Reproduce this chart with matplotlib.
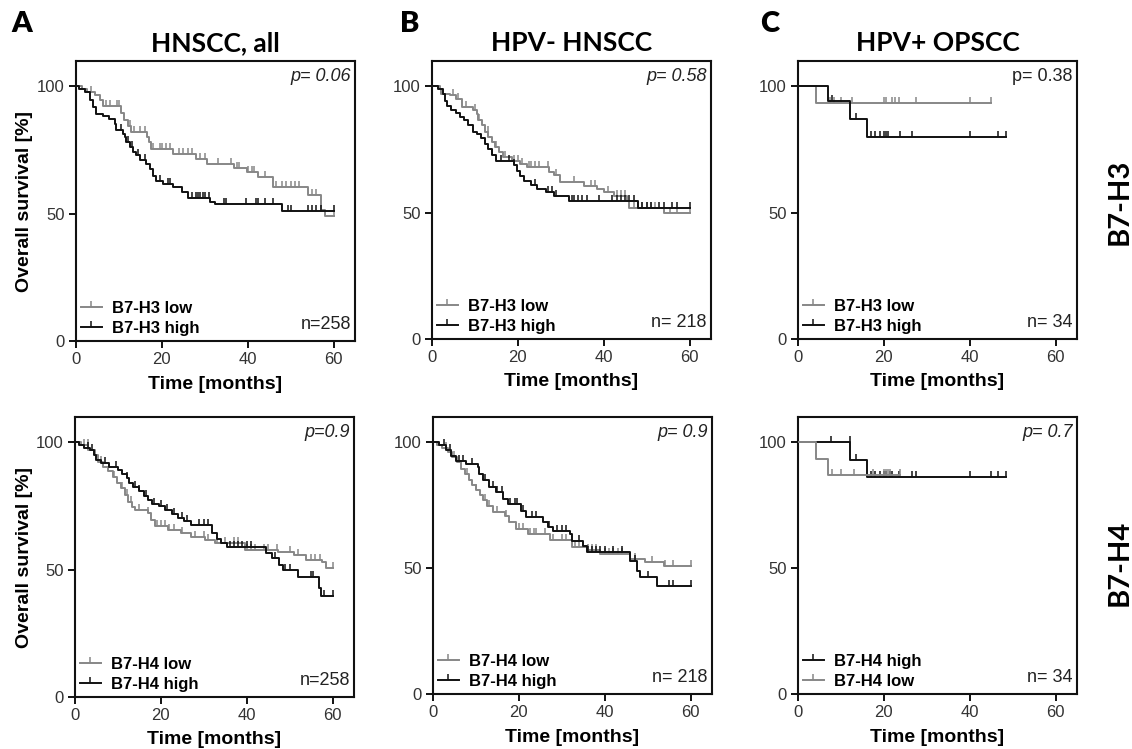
import numpy as np
import matplotlib
matplotlib.use('Agg')
import matplotlib.pyplot as plt
from matplotlib.lines import Line2D

# ---- survival data (event time [months], survival after drop [%]) ----
# A, B7-H3
a3_low_t = [1.5, 2.5, 4.5, 5.5, 6.3, 10.6, 11.2, 12.0, 12.8, 16.5, 17.0, 17.5, 22.6, 28.0, 30.5,
            36.7, 39.8, 42.5, 46.0, 54.0, 57.0, 58.0]
a3_low_s = [99, 98, 96.5, 94.5, 92.3, 89.5, 87, 84.5, 82, 80, 78, 75.5, 73.5, 71.5, 69.5,
            68, 66.5, 64.5, 60.5, 57.5, 51.5, 49]
a3_low_c = [3.5, 7, 8, 9.5, 10, 12.5, 13.5, 15, 16, 18, 19.5, 20, 21, 22, 24, 25, 26, 27, 29, 30,
            33, 36, 37.5, 38, 40, 41, 41.5, 44, 46.5, 48, 49, 50, 51, 52, 55, 56, 60]
a3_high_t = [0.8, 2.0, 3.2, 4.0, 4.7, 6.3, 7.8, 9.0, 9.4, 11.0, 11.4, 11.7, 12.5, 13.3, 14.0, 14.8,
             16.4, 17.2, 18.0, 18.7, 20.3, 22.6, 24.6, 26.1, 31.2, 32.4, 48.0]
a3_high_s = [99, 97.8, 94.5, 92, 89.3, 88.2, 87.3, 85.4, 82.7, 81.4, 80, 78, 76.2, 74.2, 73, 71,
             69.7, 67.7, 65, 63, 61.8, 60.5, 58.6, 56, 54.6, 53.7, 51.2]
a3_high_c = [10.5, 12, 13, 14.5, 16, 19.5, 21.5, 22, 27, 28, 28.5, 29, 29.5, 30, 31, 34.5, 35, 39.5,
             42, 42.5, 44, 46, 49.5, 50, 54, 55, 56, 57, 60]

# B, B7-H3
b3_low_t = [1.8, 2.2, 4.1, 5.7, 6.9, 9.6, 10.4, 10.8, 11.6, 12.3, 13.1, 13.9, 14.7, 15.5, 16.6,
            18.6, 20.5, 22.1, 27.2, 28.4, 29.9, 35.4, 38.5, 40.1, 42.4, 45.5, 45.9, 54.1]
b3_low_s = [99, 97, 96.4, 95, 91.8, 90.5, 89, 86.5, 84.5, 81.8, 80, 78, 76, 74, 72,
            70.6, 69.3, 68, 66, 64.7, 62, 60.7, 59.4, 58, 56.7, 54.8, 51.8, 49.9]
b3_low_c = [5, 6, 8, 10, 11, 13, 15, 17, 19, 20, 21, 22.5, 23, 24, 25, 27, 29, 33, 37, 38, 41, 43,
            44, 45, 47, 48, 49, 50, 51, 52, 55.5, 57, 60]
b3_high_t = [1.5, 2.5, 3.0, 3.5, 4.5, 5.5, 6.5, 7.5, 8.5, 9.5, 10.5, 11.5, 12.3, 13.1, 13.9, 15.0,
             19.0, 19.7, 20.5, 21.5, 23.0, 24.5, 26.5, 28.5, 32.0, 48.0]
b3_high_s = [99, 97, 94, 92, 90.5, 89.5, 88, 86.5, 84.5, 82, 81, 79.5, 77, 75, 73, 70.5,
             69, 66.5, 64.5, 62.5, 61, 59.5, 58, 56.5, 54.5, 52]
b3_high_c = [14, 16, 18, 19, 24, 27, 28, 29, 32.5, 33, 34, 35, 36, 39, 42, 43, 44, 45, 46, 47, 49,
             50, 51, 53, 54, 56, 57, 60]

# C, B7-H3
c3_low_t = [4.3]
c3_low_s = [93.4]
c3_low_c = [7.5, 8.3, 10, 12.5, 20, 20.5, 22, 22.7, 23.5, 27.5, 40, 45]
c3_high_t = [7.1, 12.1, 16.0]
c3_high_s = [94, 87.2, 79.9]
c3_high_c = [8, 13.5, 17, 18, 19, 20, 20.5, 21, 23.8, 26.5, 40, 46.5, 48.5]

# A, B7-H4
a4_low_t = [1.5, 3.1, 4.6, 5.4, 6.6, 7.7, 8.9, 9.7, 10.8, 11.6, 12.4, 13.2, 13.9, 17.0, 17.8, 18.6,
            21.7, 24.8, 27.0, 30.2, 32.5, 39.5, 47.2, 51.0, 53.9, 57.5, 58.5]
a4_low_s = [99, 97, 95, 92.5, 90.5, 88.6, 86.6, 84, 82, 79.4, 76.8, 74.8, 73.5, 72.2, 69.5, 67,
            65.7, 64.4, 63, 61.7, 60.4, 57.8, 56.8, 55.7, 53.9, 53.1, 50.6]
a4_low_c = [2, 3, 6, 9, 11, 12, 13, 15, 17, 19, 20, 21, 22, 23, 25, 28, 30, 31, 33, 35, 37, 38, 40,
            41, 42, 44, 45, 47, 50, 52, 55, 56, 57, 60]
a4_high_t = [1.0, 2.0, 3.5, 4.5, 5.0, 6.0, 8.0, 10.0, 11.0, 12.0, 12.5, 13.5, 15.0, 16.0, 17.0, 18.0,
             19.5, 21.0, 22.5, 24.0, 25.5, 27.0, 32.0, 33.0, 34.0, 35.5, 44.5, 46.0, 47.5, 48.4,
             52.0, 56.8, 57.3]
a4_high_s = [99, 98, 97, 95, 93, 92, 90.5, 89, 87.5, 86, 84, 82.5, 81, 79, 77.5, 76,
             75, 73.5, 72, 70.5, 69, 67.5, 64.5, 62, 60.5, 59, 56.5, 54.5, 52, 50,
             47, 43, 39.5]
a4_high_c = [3, 4, 7, 9.5, 12, 14, 15, 16.5, 18.5, 20, 21.5, 23, 25, 26, 29, 30, 31, 36, 37, 38, 39,
             40, 41, 46.5, 49, 50, 55, 55.5, 58, 60]

# B, B7-H4
b4_low_t = [1.0, 2.0, 3.5, 4.5, 5.5, 6.5, 7.5, 8.5, 9.0, 10.0, 11.0, 11.7, 12.5, 13.9, 16.8, 17.8,
            19.4, 22.1, 27.2, 32.3, 35.8, 38.9, 45.9, 49.5, 53.8]
b4_low_s = [99, 97.5, 96, 94, 92, 89.5, 87.5, 85, 83, 81, 79, 77, 74.5, 72.2, 70.5, 68.5,
            65.6, 63.6, 61, 58.3, 57, 55.4, 53.7, 52.4, 50.7]
b4_low_c = [3, 5, 8, 10, 12, 13, 15, 17, 20, 21, 22.5, 23.5, 24, 26, 28, 30, 31, 33, 34, 36, 37, 38,
            40, 41, 42, 43, 44, 47, 51, 54, 56, 60]
b4_high_t = [1.4, 3.0, 4.1, 5.3, 7.7, 10.4, 10.8, 11.6, 13.1, 14.7, 16.3, 17.4, 20.5, 21.7, 25.6,
             26.8, 28.0, 31.9, 32.3, 35.0, 35.8, 45.9, 47.5, 48.3, 52.2]
b4_high_s = [98.7, 96.7, 94.7, 92.7, 91.4, 90, 87.4, 84.8, 82.1, 80.1, 77.5, 75.5, 72.8, 70.2, 68.2,
             66.2, 64.9, 63.6, 60.9, 58.9, 56.3, 53, 49, 46.4, 43]
b4_high_c = [2.5, 4, 6, 7, 9, 12, 14, 15, 16, 18, 19, 19.5, 21, 23, 24, 27, 29, 30, 31, 34, 36, 37,
             38, 39, 40, 42, 44, 47, 50, 55, 56, 60]

# C, B7-H4
c4_low_t = [4.2, 7.0]
c4_low_s = [93.4, 86.8]
c4_low_c = [8, 10, 13, 17.5, 20, 20.5, 21, 21.5, 23.7]
c4_high_t = [12.1, 16.0]
c4_high_s = [93, 86.1]
c4_high_c = [7.6, 12, 13.5, 17, 18, 19, 20, 20.5, 21.5, 22, 23.5, 26.5, 27.5, 40, 45, 46.5, 48.5]

titles = ['HNSCC, all', 'HPV- HNSCC', 'HPV+ OPSCC']
letters = ['A', 'B', 'C']
row_labels = ['B7-H3', 'B7-H4']
p_texts = [['p= 0.06', 'p= 0.58', 'p= 0.38'], ['p=0.9', 'p= 0.9', 'p= 0.7']]
p_italic = [[True, True, False], [True, True, True]]
n_texts = ['n=258', 'n= 218', 'n= 34']

GRAY = '#878787'
BLACK = '#111111'

W, H = 1132, 749
# axes boxes in pixels: left, right, top, bottom
boxes = [[(76, 355, 61, 341), (432, 711, 61, 339), (798, 1077, 61, 339)],
         [(75, 354, 417, 697), (433, 712, 417, 694), (798, 1077, 417, 694)]]

curves = [
    [[(a3_low_t, a3_low_s, a3_low_c, GRAY, 'B7-H3 low'), (a3_high_t, a3_high_s, a3_high_c, BLACK, 'B7-H3 high')],
     [(b3_low_t, b3_low_s, b3_low_c, GRAY, 'B7-H3 low'), (b3_high_t, b3_high_s, b3_high_c, BLACK, 'B7-H3 high')],
     [(c3_low_t, c3_low_s, c3_low_c, GRAY, 'B7-H3 low'), (c3_high_t, c3_high_s, c3_high_c, BLACK, 'B7-H3 high')]],
    [[(a4_low_t, a4_low_s, a4_low_c, GRAY, 'B7-H4 low'), (a4_high_t, a4_high_s, a4_high_c, BLACK, 'B7-H4 high')],
     [(b4_low_t, b4_low_s, b4_low_c, GRAY, 'B7-H4 low'), (b4_high_t, b4_high_s, b4_high_c, BLACK, 'B7-H4 high')],
     [(c4_high_t, c4_high_s, c4_high_c, BLACK, 'B7-H4 high'), (c4_low_t, c4_low_s, c4_low_c, GRAY, 'B7-H4 low')]],
]

SANS = ['Liberation Sans', 'DejaVu Sans']
plt.rcParams['font.family'] = SANS

fig = plt.figure(figsize=(W / 100, H / 100), dpi=100)


def draw_km(ax, t, s, cens, color):
    t = np.asarray(t, float)
    s = np.asarray(s, float)
    cens = np.asarray(cens, float)
    end = max(cens.max(), t.max())
    x = np.concatenate([[0], t, [end]])
    y = np.concatenate([[100], s, [s[-1]]])
    ax.step(x, y, where='post', color=color, lw=1.4, zorder=3)
    # censored cases sit on the curve level at their time
    levels = np.concatenate([[100], s])
    ys = levels[np.searchsorted(t, cens, side='right')]
    ax.plot(cens, ys, lw=0, marker=2, ms=4.5, mew=1.1, color=color, zorder=3)


for r in range(2):
    for c in range(3):
        l, rt, tp, bt = boxes[r][c]
        ax = fig.add_axes([l / W, 1 - bt / H, (rt - l) / W, (bt - tp) / H])
        handles = []
        for t, s, cens, color, lab in curves[r][c]:
            draw_km(ax, t, s, cens, color)
            handles.append(Line2D([], [], color=color, lw=1.4, marker=2, ms=4.5, mew=1.1, label=lab))
        ax.set_xlim(0, 65)
        ax.set_ylim(0, 110)
        ax.set_xticks([0, 20, 40, 60])
        ax.set_yticks([0, 50, 100])
        for sp in ax.spines.values():
            sp.set_linewidth(1.5)
            sp.set_color(BLACK)
        ax.tick_params(direction='out', length=5, width=1.4, labelsize=12,
                       labelcolor='#333333', color=BLACK, pad=3)
        ax.legend(handles=handles, loc='lower left', frameon=False, numpoints=1,
                  handlelength=1.25, handletextpad=0.6, labelspacing=0.3,
                  borderaxespad=0.1, borderpad=0.2,
                  prop={'family': SANS, 'weight': 'bold', 'size': 12})
        ax.text(0.985, 0.975, p_texts[r][c], transform=ax.transAxes, ha='right', va='top',
                fontsize=13, style='italic' if p_italic[r][c] else 'normal', color='#222222')
        ax.text(0.985, 0.03, n_texts[c], transform=ax.transAxes, ha='right', va='bottom',
                fontsize=13, color='#222222')
        # x label below each panel
        fig.text((l + rt) / 2 / W, 1 - (bt + 43) / H, 'Time [months]', ha='center', va='center',
                 fontsize=14, fontweight='bold')
        if c == 0:
            fig.text(25 / W, 1 - (tp + bt) / 2 / H, 'Overall survival [%]', rotation=90,
                     ha='center', va='center', fontsize=14, fontweight='bold')
        if r == 0:
            fig.text((l + rt) / 2 / W, 1 - 43 / H, titles[c], ha='center', va='center',
                     fontsize=19, fontweight='bold', family=['Lato', 'DejaVu Sans'])

# panel letters
for x, lt in zip([11, 400, 760], letters):
    fig.text(x / W, 1 - 24 / H, lt, ha='left', va='center', fontsize=21, fontweight='heavy',
             family=['Lato', 'DejaVu Sans'])

# row labels at right
for y, lab in zip([202, 563], row_labels):
    fig.text(1120 / W, 1 - y / H, lab, rotation=90, ha='center', va='center', fontsize=21,
             fontweight='bold', family=['Lato', 'DejaVu Sans'])

fig.savefig('out.png', dpi=100)
